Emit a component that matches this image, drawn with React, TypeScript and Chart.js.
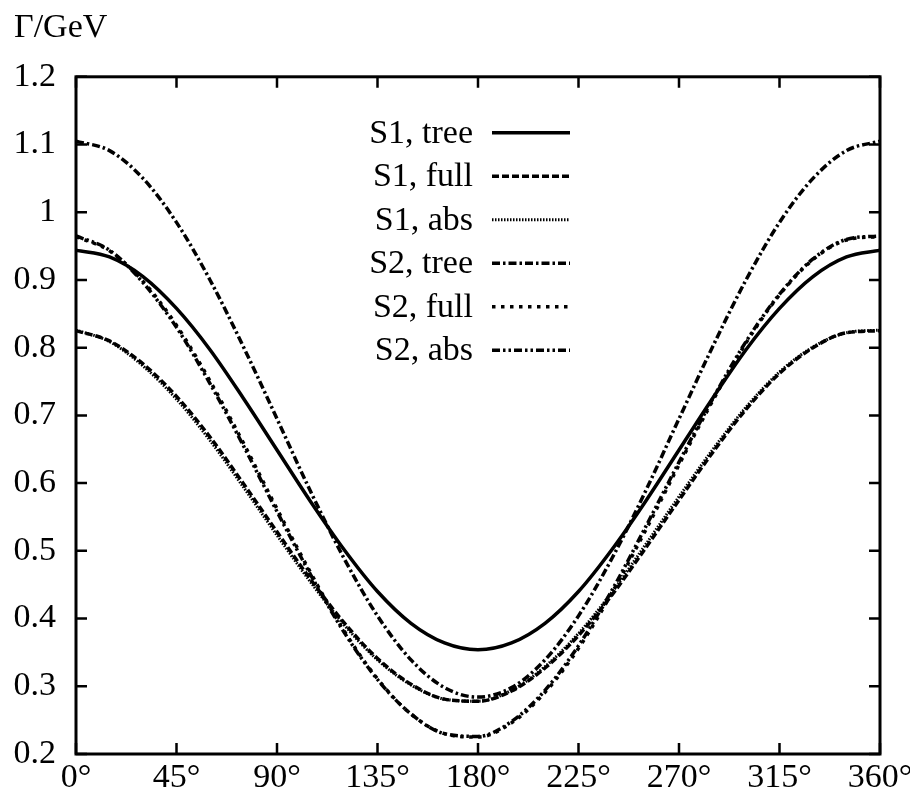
import React, { useEffect, useRef } from "react";
import { Chart, registerables } from "chart.js";

Chart.register(...registerables);

// angle in degrees
const angles = [0, 15, 30, 45, 60, 75, 90, 105, 120, 135, 150, 165, 180, 195, 210, 225, 240, 255, 270, 285, 300, 315, 330, 345, 360];

// Γ / GeV
const s1Tree = [0.944, 0.934, 0.905, 0.858, 0.797, 0.725, 0.649, 0.573, 0.502, 0.44, 0.393, 0.364, 0.354, 0.364, 0.393, 0.44, 0.502, 0.573, 0.649, 0.725, 0.797, 0.858, 0.905, 0.934, 0.944];
const s1Full = [0.825, 0.81, 0.776, 0.728, 0.668, 0.599, 0.528, 0.458, 0.394, 0.341, 0.303, 0.281, 0.278, 0.293, 0.327, 0.375, 0.435, 0.504, 0.575, 0.645, 0.709, 0.762, 0.8, 0.822, 0.825];
const s1Abs = [0.826, 0.809, 0.773, 0.724, 0.663, 0.594, 0.523, 0.454, 0.391, 0.339, 0.302, 0.281, 0.278, 0.294, 0.329, 0.378, 0.439, 0.509, 0.58, 0.649, 0.712, 0.764, 0.801, 0.822, 0.826];
const s2Tree = [1.105, 1.091, 1.05, 0.985, 0.9, 0.801, 0.695, 0.588, 0.489, 0.404, 0.339, 0.298, 0.284, 0.298, 0.339, 0.404, 0.489, 0.588, 0.695, 0.801, 0.9, 0.985, 1.05, 1.091, 1.105];
const s2Full = [0.964, 0.943, 0.898, 0.833, 0.751, 0.659, 0.562, 0.468, 0.382, 0.311, 0.259, 0.23, 0.225, 0.246, 0.291, 0.356, 0.438, 0.53, 0.627, 0.721, 0.807, 0.878, 0.93, 0.959, 0.964];
const s2Abs = [0.965, 0.944, 0.896, 0.83, 0.747, 0.655, 0.558, 0.465, 0.38, 0.31, 0.259, 0.23, 0.226, 0.248, 0.294, 0.36, 0.442, 0.535, 0.631, 0.724, 0.809, 0.879, 0.931, 0.96, 0.965];

const seriesLabels = ["S1, tree", "S1, full", "S1, abs", "S2, tree", "S2, full", "S2, abs"];
const seriesValues = [s1Tree, s1Full, s1Abs, s2Tree, s2Full, s2Abs];
const seriesDashes: number[][] = [[], [7, 3], [1.5, 1.5], [8, 3, 2.5, 3], [3.5, 5.5], [8, 3, 2.5, 3, 2.5, 3]];
const seriesWidths = [3.5, 3.5, 3, 3.5, 3.5, 3.5];

const xTickValues = [0, 45, 90, 135, 180, 225, 270, 315, 360];
const yTickValues = [0.2, 0.3, 0.4, 0.5, 0.6, 0.7, 0.8, 0.9, 1.0, 1.1, 1.2];
const yTitle = "Γ/GeV";

const FONT = "'Liberation Serif', 'Times New Roman', serif";
const FSIZE = 34;

const framePlugin = {
  id: "gnuFrame",
  afterDatasetsDraw(chart: any) {
    const { ctx, chartArea } = chart;
    const { left, right, top, bottom } = chartArea;
    const xs = chart.scales.x;
    const ys = chart.scales.y;
    ctx.save();
    ctx.strokeStyle = "#000";
    ctx.lineWidth = 2.5;
    ctx.setLineDash([]);
    const tl = 11;
    ctx.beginPath();
    xTickValues.forEach((v) => {
      const px = xs.getPixelForValue(v);
      ctx.moveTo(px, bottom);
      ctx.lineTo(px, bottom - tl);
      ctx.moveTo(px, top);
      ctx.lineTo(px, top + tl);
    });
    yTickValues.forEach((v) => {
      const py = ys.getPixelForValue(v);
      ctx.moveTo(left, py);
      ctx.lineTo(left + tl, py);
      ctx.moveTo(right, py);
      ctx.lineTo(right - tl, py);
    });
    ctx.stroke();
    ctx.lineWidth = 3;
    ctx.strokeRect(left, top, right - left, bottom - top);

    // legend (gnuplot style: right-aligned text, line sample to the right)
    ctx.font = `${FSIZE}px ${FONT}`;
    ctx.fillStyle = "#000";
    ctx.textAlign = "right";
    ctx.textBaseline = "middle";
    const textRight = left + 397;
    const lineStart = left + 416;
    const lineEnd = left + 494;
    const row0 = top + 56;
    const rowGap = 43.5;
    chart.data.datasets.forEach((ds: any, i: number) => {
      const y = row0 + i * rowGap;
      ctx.fillText(ds.label, textRight, y + 1);
      ctx.beginPath();
      ctx.lineWidth = ds.borderWidth;
      ctx.setLineDash(ds.borderDash || []);
      ctx.moveTo(lineStart, y);
      ctx.lineTo(lineEnd, y);
      ctx.stroke();
    });
    ctx.restore();
  },
};

export default function App() {
  const ref = useRef<HTMLCanvasElement>(null);
  useEffect(() => {
    document.body.style.margin = "0";
    const canvas = ref.current!;
    const datasets = seriesLabels.map((label, i) => ({
      label,
      data: angles.map((a, j) => ({ x: a, y: seriesValues[i][j] })),
      borderColor: "#000",
      backgroundColor: "#000",
      borderWidth: seriesWidths[i],
      borderDash: seriesDashes[i],
      pointRadius: 0,
      fill: false,
      cubicInterpolationMode: "monotone" as const,
      borderCapStyle: "butt" as const,
    }));
    const chart = new Chart(canvas, {
      type: "line",
      data: { datasets },
      options: {
        responsive: false,
        animation: false,
        maintainAspectRatio: false,
        layout: { padding: { left: 14, right: 0, top: 2, bottom: 0 } },
        plugins: {
          legend: { display: false },
          tooltip: { enabled: false },
          title: {
            display: true,
            text: yTitle,
            align: "start",
            color: "#000",
            font: { family: FONT, size: FSIZE, weight: "normal" },
            padding: { top: 6, bottom: 28 },
          },
        },
        scales: {
          x: {
            type: "linear",
            min: 0,
            max: 360,
            grid: { display: false, drawTicks: false },
            border: { display: false },
            afterBuildTicks: (scale: any) => {
              scale.ticks = xTickValues.map((v) => ({ value: v }));
            },
            afterFit: (scale: any) => {
              scale.height = 43;
              scale.paddingRight = 30;
            },
            ticks: {
              color: "#000",
              font: { family: FONT, size: FSIZE },
              padding: 4,
              maxRotation: 0,
              autoSkip: false,
              callback: (v: any) => `${v}°`,
            },
          },
          y: {
            type: "linear",
            min: 0.2,
            max: 1.2,
            grid: { display: false, drawTicks: false },
            border: { display: false },
            afterBuildTicks: (scale: any) => {
              scale.ticks = yTickValues.map((v) => ({ value: v }));
            },
            afterFit: (scale: any) => {
              scale.width = 62;
            },
            ticks: {
              color: "#000",
              font: { family: FONT, size: FSIZE },
              padding: 20,
              autoSkip: false,
              callback: (v: any) => String(Number(Number(v).toFixed(1))),
            },
          },
        },
      },
      plugins: [framePlugin],
    });
    return () => chart.destroy();
  }, []);
  return (
    <div style={{ width: 910, height: 797, background: "#fff" }}>
      <canvas ref={ref} width={910} height={797} style={{ width: 910, height: 797, display: "block" }} />
    </div>
  );
}
